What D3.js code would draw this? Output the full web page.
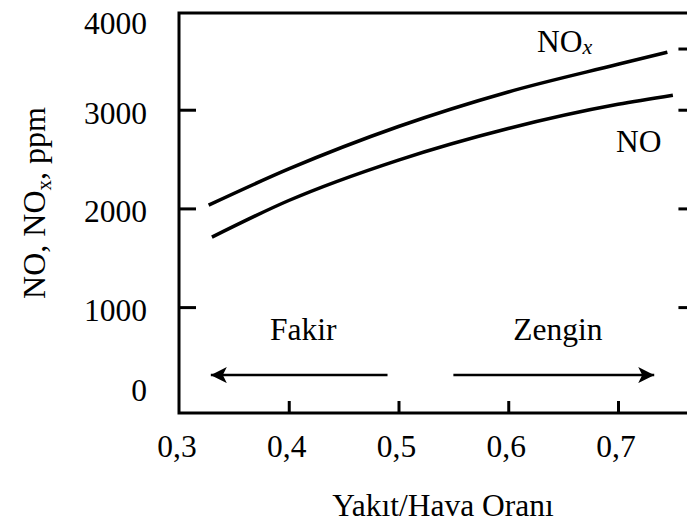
<!DOCTYPE html>
<html>
<head>
<meta charset="utf-8">
<script src="https://cdn.jsdelivr.net/npm/d3@7"></script>
<style>
  html, body { margin: 0; padding: 0; background: #fff; }
  svg { display: block; font-family: "Liberation Serif", "Times New Roman", serif; }
</style>
</head>
<body>
<svg id="chart" width="687" height="525"></svg>
<script>
// Fuel/air ratio (x) and emission levels in ppm for the two curves
const noRatio  = [0.330, 0.400, 0.500, 0.600, 0.700, 0.750];
const noPpm    = [1709, 2080, 2490, 2810, 3055, 3147];
const noxRatio = [0.327, 0.400, 0.500, 0.600, 0.700, 0.745];
const noxPpm   = [2033, 2400, 2830, 3180, 3460, 3583];

// Axis ticks and labels
const xTickValues = [0.3, 0.4, 0.5, 0.6, 0.7];
const xTickLabels = ["0,3", "0,4", "0,5", "0,6", "0,7"];
const yTickValues = [4000, 3000, 2000, 1000, 0];
const yTickLabels = ["4000", "3000", "2000", "1000", "0"];
const yTickMarks  = [1000, 2000, 3000];
const rightTickMarks = [1000, 2000, 3000, 3620];

// Lean / rich direction arrows (fuel/air ratio from -> to)
const arrowLevel = 311;
const leanArrow = [0.490, 0.329];
const richArrow = [0.550, 0.733];

const FS = 31.5;
const svg = d3.select("#chart");

const x = d3.scaleLinear().domain([0.3, 0.7]).range([179, 618]);
const y = d3.scaleLinear().domain([-73, 3980]).range([413, 13]);
const xMax = 0.766;

const plotLeft = x(0.3), plotRight = x(xMax), plotTop = y(3980), plotBottom = y(-73);

// Inward tick marks
svg.append("g")
  .attr("transform", `translate(0,${plotBottom})`)
  .call(d3.axisBottom(x).tickValues(xTickValues.slice(1)).tickSize(-12).tickFormat(""))
  .call(g => g.select(".domain").remove())
  .call(g => g.selectAll("line").attr("stroke", "#000").attr("stroke-width", 3));

svg.append("g")
  .attr("transform", `translate(${plotLeft},0)`)
  .call(d3.axisLeft(y).tickValues(yTickMarks).tickSize(-17).tickFormat(""))
  .call(g => g.select(".domain").remove())
  .call(g => g.selectAll("line").attr("stroke", "#000").attr("stroke-width", 3));

svg.append("g")
  .attr("transform", `translate(${plotRight},0)`)
  .call(d3.axisRight(y).tickValues(rightTickMarks).tickSize(-12).tickFormat(""))
  .call(g => g.select(".domain").remove())
  .call(g => g.selectAll("line").attr("stroke", "#000").attr("stroke-width", 3));

// Plot frame
svg.append("rect")
  .attr("x", plotLeft).attr("y", plotTop)
  .attr("width", plotRight - plotLeft).attr("height", plotBottom - plotTop)
  .attr("fill", "none").attr("stroke", "#000").attr("stroke-width", 3);

// Tick labels
svg.append("g").selectAll("text")
  .data(xTickValues)
  .join("text")
  .attr("x", d => x(d) - 2)
  .attr("y", 457)
  .attr("text-anchor", "middle")
  .attr("font-size", FS)
  .text((d, i) => xTickLabels[i]);

svg.append("g").selectAll("text")
  .data(yTickValues)
  .join("text")
  .attr("x", 147)
  .attr("y", d => Math.min(Math.max(y(d) + 3, plotTop + 10), plotBottom - 23))
  .attr("dy", "0.35em")
  .attr("text-anchor", "end")
  .attr("font-size", FS)
  .text((d, i) => yTickLabels[i]);

// Axis titles
svg.append("text")
  .attr("x", 443).attr("y", 516)
  .attr("text-anchor", "middle")
  .attr("font-size", FS)
  .text("Yakıt/Hava Oranı");

const yTitle = svg.append("text")
  .attr("transform", "translate(45,203) rotate(-90)")
  .attr("text-anchor", "middle")
  .attr("font-size", 32);
yTitle.append("tspan").text("NO, NO");
yTitle.append("tspan").attr("font-size", 21).attr("dy", 6).text("x");
yTitle.append("tspan").attr("dy", -6).text(", ppm");

// Curves
const line = d3.line()
  .x(d => x(d[0]))
  .y(d => y(d[1]))
  .curve(d3.curveMonotoneX);

const series = [
  { name: "NO", pts: d3.zip(noRatio, noPpm) },
  { name: "NOx", pts: d3.zip(noxRatio, noxPpm) }
];

svg.append("g").selectAll("path")
  .data(series)
  .join("path")
  .attr("d", d => line(d.pts))
  .attr("fill", "none")
  .attr("stroke", "#000")
  .attr("stroke-width", 3.5);

// Curve labels
const noxLabel = svg.append("text")
  .attr("x", 537).attr("y", 52)
  .attr("font-size", FS);
noxLabel.append("tspan").text("NO");
noxLabel.append("tspan").attr("font-size", 22).attr("font-style", "italic").attr("dy", 2).text("x");

svg.append("text")
  .attr("x", 616).attr("y", 152)
  .attr("font-size", FS)
  .text("NO");

// Arrows
const defs = svg.append("defs");
defs.append("marker")
  .attr("id", "head")
  .attr("viewBox", "0 0 16 16")
  .attr("refX", 16).attr("refY", 8)
  .attr("markerWidth", 16).attr("markerHeight", 16)
  .attr("markerUnits", "userSpaceOnUse")
  .attr("orient", "auto")
  .append("path")
  .attr("d", "M0,0 L16,8 L0,16 L4,8 Z")
  .attr("fill", "#000");

const arrows = [
  { label: "Fakir", span: leanArrow },
  { label: "Zengin", span: richArrow }
];

svg.append("g").selectAll("line")
  .data(arrows)
  .join("line")
  .attr("x1", d => x(d.span[0]))
  .attr("x2", d => x(d.span[1]))
  .attr("y1", y(arrowLevel))
  .attr("y2", y(arrowLevel))
  .attr("stroke", "#000")
  .attr("stroke-width", 2.5)
  .attr("marker-end", "url(#head)");

svg.append("g").selectAll("text")
  .data(arrows)
  .join("text")
  .attr("x", d => (x(d.span[0]) + x(d.span[1])) / 2 + 4)
  .attr("y", y(arrowLevel) - 35)
  .attr("text-anchor", "middle")
  .attr("font-size", FS)
  .text(d => d.label);
</script>
</body>
</html>
